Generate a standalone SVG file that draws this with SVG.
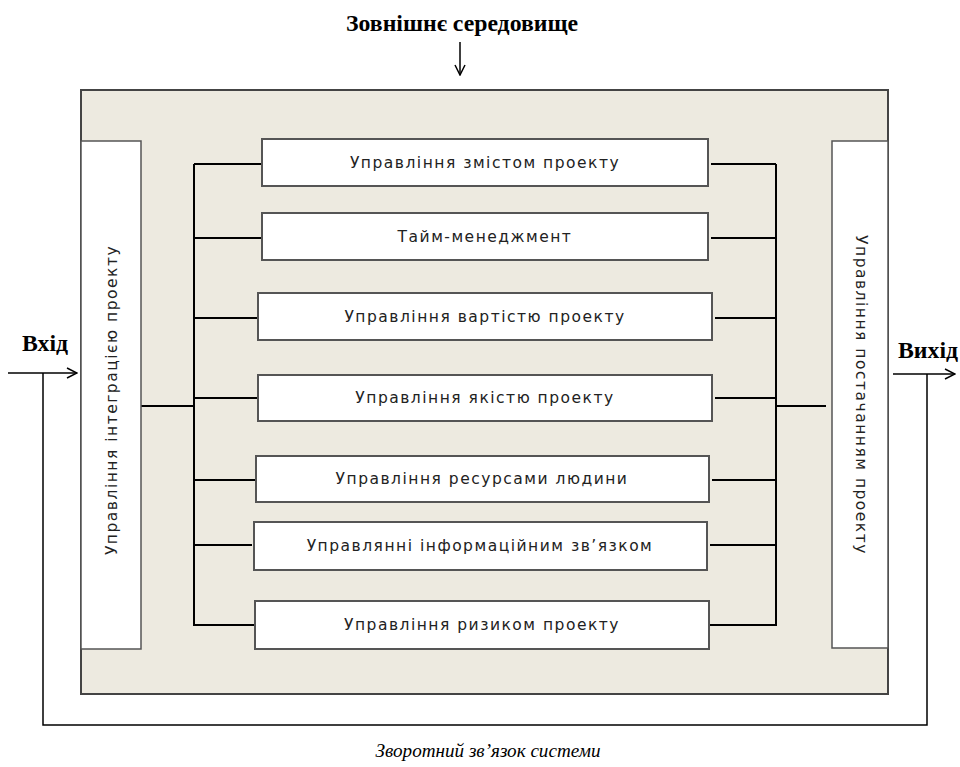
<svg xmlns="http://www.w3.org/2000/svg" width="960" height="767" viewBox="0 0 960 767">
<defs>
<marker id="arr" viewBox="0 0 12 12" refX="11" refY="6" markerWidth="12" markerHeight="12" markerUnits="userSpaceOnUse" orient="auto">
<path d="M1,1 L11,6 L1,11" fill="none" stroke="#000" stroke-width="1.5"/>
</marker>
</defs>
<style>
.frame{fill:#EDEAE0;stroke:#444;stroke-width:2}
.box{fill:#fff;stroke:#555;stroke-width:2}
.side{fill:#fff;stroke:#555;stroke-width:1.5}
.lbl{font-family:"DejaVu Sans",Verdana,sans-serif;font-size:15.5px;letter-spacing:1.5px;fill:#222;text-anchor:middle}
.head{font-family:"Liberation Serif","Times New Roman",serif;font-weight:bold;font-size:23px;fill:#000}
.it{font-family:"Liberation Serif","Times New Roman",serif;font-style:italic;font-size:18px;fill:#000;text-anchor:middle}
.ln{fill:none;stroke:#000;stroke-width:2}
.thin{fill:none;stroke:#000;stroke-width:1.5}
</style>
<rect width="960" height="767" fill="#fff"/>
<g id="environment">
<rect class="frame" x="81" y="90" width="807" height="604"/>
</g>
<text class="head" x="462" y="31" text-anchor="middle" textLength="232" lengthAdjust="spacingAndGlyphs">Зовнішнє середовище</text>
<text class="head" x="22" y="351" textLength="46" lengthAdjust="spacingAndGlyphs">Вхід</text>
<text class="head" x="898" y="358" textLength="60" lengthAdjust="spacingAndGlyphs">Вихід</text>
<text class="it" x="488" y="757" textLength="225" lengthAdjust="spacingAndGlyphs">Зворотний зв’язок системи</text>
<g id="connectors">
<line class="thin" x1="460" y1="42" x2="460" y2="75" marker-end="url(#arr)"/>
<line class="thin" x1="8" y1="373" x2="77" y2="373" marker-end="url(#arr)"/>
<line class="thin" x1="893" y1="374" x2="955" y2="374" marker-end="url(#arr)"/>
<polyline class="thin" points="43,373 43,725 927,725 927,374"/>
<line class="ln" x1="141" y1="406" x2="194" y2="406"/>
<line class="ln" x1="194" y1="164" x2="194" y2="626"/>
<line class="ln" x1="194" y1="164" x2="262" y2="164"/>
<line class="ln" x1="194" y1="238" x2="262" y2="238"/>
<line class="ln" x1="194" y1="318" x2="258" y2="318"/>
<line class="ln" x1="194" y1="398" x2="258" y2="398"/>
<line class="ln" x1="194" y1="480" x2="256" y2="480"/>
<line class="ln" x1="194" y1="545" x2="252" y2="545"/>
<line class="ln" x1="194" y1="625" x2="255" y2="625"/>
<line class="ln" x1="776" y1="164" x2="776" y2="626"/>
<line class="ln" x1="711" y1="164" x2="776" y2="164"/>
<line class="ln" x1="711" y1="238" x2="776" y2="238"/>
<line class="ln" x1="715" y1="318" x2="776" y2="318"/>
<line class="ln" x1="715" y1="398" x2="776" y2="398"/>
<line class="ln" x1="712" y1="480" x2="776" y2="480"/>
<line class="ln" x1="710" y1="545" x2="776" y2="545"/>
<line class="ln" x1="710" y1="625" x2="776" y2="625"/>
<line class="ln" x1="776" y1="406" x2="826" y2="406"/>
</g>
<g id="integration">
<rect class="side" x="81" y="141" width="60" height="508"/>
<text class="lbl" transform="translate(117,400) rotate(-90)">Управління інтеграцією проекту</text>
</g>
<g id="procurement">
<rect class="side" x="832" y="141" width="56" height="507"/>
<text class="lbl" transform="translate(856,395) rotate(90)">Управління постачанням проекту</text>
</g>
<g id="scope">
<rect class="box" x="262" y="139" width="446" height="47"/>
<text class="lbl" x="485" y="168">Управління змістом проекту</text>
</g>
<g id="time">
<rect class="box" x="262" y="213" width="446" height="47"/>
<text class="lbl" x="485" y="242">Тайм-менеджмент</text>
</g>
<g id="cost">
<rect class="box" x="258" y="293" width="454" height="47"/>
<text class="lbl" x="485" y="322">Управління вартістю проекту</text>
</g>
<g id="quality">
<rect class="box" x="258" y="375" width="454" height="46"/>
<text class="lbl" x="485" y="403">Управління якістю проекту</text>
</g>
<g id="hr">
<rect class="box" x="256" y="456" width="453" height="46"/>
<text class="lbl" x="482" y="484">Управління ресурсами людини</text>
</g>
<g id="communication">
<rect class="box" x="254" y="522" width="453" height="48"/>
<text class="lbl" x="480" y="551">Управлянні інформаційним зв’язком</text>
</g>
<g id="risk">
<rect class="box" x="255" y="601" width="454" height="48"/>
<text class="lbl" x="482" y="630">Управління ризиком проекту</text>
</g>
</svg>
